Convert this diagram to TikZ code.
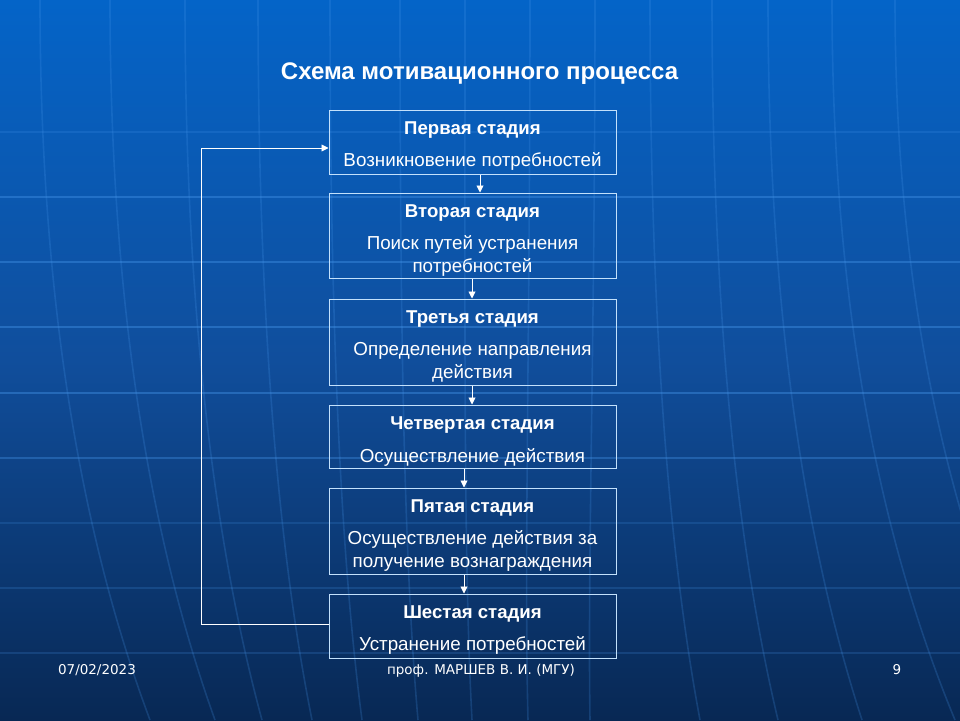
\documentclass[tikz,border=0pt]{standalone}
\usepackage{fontspec}
\setmainfont{Liberation Sans}
\newfontfamily\footfont{DejaVu Sans}
\usetikzlibrary{arrows.meta}
\definecolor{bgtop}{RGB}{4,100,200}
\definecolor{bgmid}{RGB}{16,78,156}
\definecolor{bgbot}{RGB}{8,40,84}
\definecolor{gridc}{RGB}{70,150,235}
\definecolor{boxc}{RGB}{195,225,252}
\tikzset{
  stagebox/.style={draw=boxc, line width=1pt, inner sep=0pt, rectangle},
  head/.style={text=white, font=\fontsize{18.6}{22}\selectfont\bfseries, inner sep=0pt},
  body/.style={text=white, font=\fontsize{18.8}{23}\selectfont, inner sep=0pt, align=center},
  arr/.style={draw=white, line width=0.9pt, -{Triangle[length=7pt,width=7pt]}},
  gridl/.style={draw=gridc, line width=1.6pt},
  foot/.style={text=white, font=\footfont\fontsize{13.5}{15}\selectfont, inner sep=0pt},
}
\begin{document}
\begin{tikzpicture}[x=1pt,y=-1pt]
\useasboundingbox (0,0) rectangle (960,720);
% background
\shade[top color=bgtop, bottom color=bgmid] (0,0) rectangle (960,360);
\shade[top color=bgmid, bottom color=bgbot] (0,360) rectangle (960,720);
% grid lines (decorative globe)
\foreach \yy/\op in {132/0.2,197/0.4,262/0.4,327/0.4,393/0.4,458/0.35,523/0.18,588/0.2,653/0.2}
  \draw[gridl, opacity=\op] (0,\yy) -- (960,\yy);
\foreach \xt/\xb in {40/150,110/215,185/262,258/312,330/362,400/418,465/472,530/528,595/590,650/700,712/778,768/862,832/955,895/1040}
  \draw[gridl, opacity=0.22] (\xt,0) .. controls (\xt,330) and ({(\xt+\xb)/2-5},560) .. (\xb,720);
% title
\node[text=white, font=\fontsize{24}{28}\selectfont\bfseries, inner sep=0pt] (title) at (479.5,73.5) {Схема мотивационного процесса};
% boxes
\node[stagebox, minimum width=287pt, minimum height=64pt] (b1) at (472.5,142) {};
\node[stagebox, minimum width=287pt, minimum height=85pt] (b2) at (472.5,235.5) {};
\node[stagebox, minimum width=287pt, minimum height=86pt] (b3) at (472.5,342) {};
\node[stagebox, minimum width=287pt, minimum height=63pt] (b4) at (472.5,436.5) {};
\node[stagebox, minimum width=287pt, minimum height=86pt] (b5) at (472.5,531) {};
\node[stagebox, minimum width=287pt, minimum height=64pt] (b6) at (472.5,626) {};
% texts
\node[head] (h1) at (472.5,130) {Первая стадия};
\node[body] (t1) at (472.5,161) {Возникновение потребностей};
\node[head] (h2) at (472.5,213) {Вторая стадия};
\node[body] (t2) at (472.5,255.5) {Поиск путей устранения\\потребностей};
\node[head] (h3) at (472.5,319) {Третья стадия};
\node[body] (t3) at (472.5,362) {Определение направления\\действия};
\node[head] (h4) at (472.5,425) {Четвертая стадия};
\node[body] (t4) at (472.5,457) {Осуществление действия};
\node[head] (h5) at (472.5,508) {Пятая стадия};
\node[body] (t5) at (472.5,550.5) {Осуществление действия за\\получение вознаграждения};
\node[head] (h6) at (472.5,614) {Шестая стадия};
\node[body] (t6) at (472.5,645) {Устранение потребностей};
% arrows
\draw[arr] ([xshift=7.5pt]b1.south) -- ([xshift=7.5pt]b2.north);
\draw[arr] ([xshift=-0.5pt]b2.south) -- ([xshift=-0.5pt]b3.north);
\draw[arr] ([xshift=-0.5pt]b3.south) -- ([xshift=-0.5pt]b4.north);
\draw[arr] ([xshift=-8.5pt]b4.south) -- ([xshift=-8.5pt]b5.north);
\draw[arr] ([xshift=-8.5pt]b5.south) -- ([xshift=-8.5pt]b6.north);
% feedback loop
\coordinate (lp) at (201,148);
\draw[arr] ([yshift=2pt]b6.west) -| (lp) -- (lp -| b1.west);
% footer
\node[foot] (date) at (97,670) {07/02/2023};
\node[foot] (auth) at (481,670.5) {проф. МАРШЕВ В. И. (МГУ)};
\node[foot] (page) at (897,670) {9};
\end{tikzpicture}
\end{document}
